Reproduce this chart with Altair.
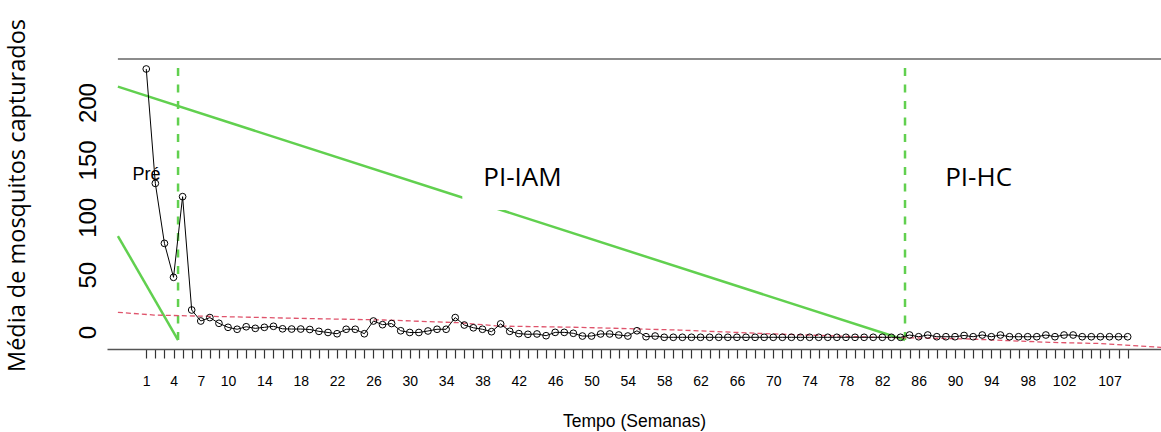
import altair as alt
import pandas as pd

# Weekly mean of captured mosquitoes (weeks 1-109)
semanas = list(range(1, 110))
media = [
    229.3, 129.6, 77.3, 47.7, 118.0, 19.2, 9.6, 12.6, 7.6, 4.1,
    2.4, 4.6, 3.2, 4.1, 5.0, 2.8, 2.6, 2.6, 2.2, 0.6,
    -0.4, -1.5, 2.4, 2.4, -1.5, 9.6, 6.4, 7.4, 1.1, -0.4,
    -0.4, 0.9, 2.4, 2.4, 12.6, 6.1, 3.7, 2.4, 0.3, 7.1,
    0.6, -1.4, -2.0, -1.7, -3.2, -0.3, -0.3, -1.1, -3.5, -3.5,
    -1.7, -1.7, -2.6, -3.5, 1.1, -4.1, -3.5, -4.6, -4.6, -4.6,
    -4.6, -4.6, -4.6, -4.6, -4.6, -4.6, -4.6, -4.6, -4.6, -4.6,
    -4.6, -4.6, -4.6, -4.6, -4.6, -4.6, -4.6, -4.6, -4.6, -4.6,
    -4.6, -4.6, -4.6, -4.6, -2.6, -4.1, -2.6, -4.1, -4.1, -4.1,
    -3.0, -4.1, -2.6, -4.1, -2.6, -4.1, -4.1, -4.1, -4.1, -2.6,
    -4.1, -2.6, -2.6, -4.1, -4.1, -4.1, -4.1, -4.1, -4.1,
]

# Fitted trend (dashed red)
tendencia_x = [-2.12, 1.85, 17.8, 27.2, 35.4, 39.8, 48.6, 59.7, 70.1, 80.6, 91.6, 100.4, 105.9, 112.67]
tendencia_y = [17.2, 14.8, 11.9, 10.5, 8.1, 5.2, 4.1, 1.7, -1.7, -4.4, -6.1, -9.0, -10.0, -13.3]

# Segment lines per phase (solid green)
segmento = ["Pré", "Pré", "PI-IAM", "PI-IAM"]
segmento_x = [-2.12, 4.5, -2.12, 84.5]
segmento_y = [83.7, -7.0, 213.9, -7.0]

# Intervention start weeks (dashed green)
intervencoes = [4.5, 84.5]

# Phase labels
fases = ["Pré", "PI-IAM", "PI-HC"]
fases_x = [1.02, 42.4, 92.6]
fases_y = [132.5, 127.3, 127.3]

# Tick labels shown on the week axis
rotulos_x = [1, 4, 7, 10, 14, 18, 22, 26, 30, 34, 38, 42, 46, 50, 54, 58,
             62, 66, 70, 74, 78, 82, 86, 90, 94, 98, 102, 107]
rotulos_y = [0, 50, 100, 150, 200]

X_MIN, X_MAX = -3.32, 112.67
Y_MIN, Y_MAX = -14.8, 238.0

GREEN = "#61D04F"
RED = "#DF536B"

serie = pd.DataFrame({"semana": semanas, "media": media})
tendencia = pd.DataFrame({"semana": tendencia_x, "media": tendencia_y})
segs = pd.DataFrame({"fase": segmento, "semana": segmento_x, "media": segmento_y})
linhas_v = pd.DataFrame({"semana": intervencoes, "media": [-7.0] * 2, "y1": [231.0] * 2})
rotulos = pd.DataFrame({"fase": fases, "semana": fases_x, "media": fases_y})
topo = pd.DataFrame({"semana": [-2.12], "x1": [X_MAX], "media": [Y_MAX]})
caixa = pd.DataFrame({"semana": [35.78], "x1": [48.6], "media": [106.4], "y1": [150.0]})

label_expr = "indexof([" + ",".join(str(v) for v in rotulos_x) + "], datum.value) >= 0 ? datum.label : ''"

x_scale = alt.Scale(domain=[X_MIN, X_MAX], nice=False, zero=False)
y_scale = alt.Scale(domain=[Y_MIN, Y_MAX], nice=False, zero=False)

x_axis = alt.Axis(
    values=semanas, labelExpr=label_expr, title="Tempo (Semanas)",
    grid=False, tickSize=9, tickColor="#333333", tickWidth=1.2,
    domainColor="#555555", domainWidth=1.5,
    labelFont="Liberation Sans", labelFontSize=14, labelColor="black",
    labelBaseline="middle", labelPadding=23, labelFlush=False, labelOverlap=False,
    titleFont="Liberation Sans", titleFontSize=17.5, titleFontWeight="normal",
    titleColor="black", titleY=72, titleBaseline="middle",
)
y_axis = alt.Axis(
    values=rotulos_y, title="Média de mosquitos capturados", grid=False,
    domain=False, ticks=False, tickSize=0,
    labelFont="Liberation Sans", labelFontSize=24, labelColor="black",
    labelAngle=270, labelAlign="center", labelBaseline="middle", labelPadding=19,
    titleFont="Open Sans", titleFontSize=23.5, titleFontWeight="normal", titleColor="black",
    titleAngle=270, titleX=-90, titleY=136, titleAlign="center", titleBaseline="middle",
)

# Every layer shares the same encodings so the axes merge cleanly
X = alt.X("semana:Q", scale=x_scale, axis=x_axis)
Y = alt.Y("media:Q", scale=y_scale, axis=y_axis)

linha_topo = alt.Chart(topo).mark_rule(color="#666666", strokeWidth=1.5).encode(
    x=X, x2="x1:Q", y=Y,
)

segmentos = alt.Chart(segs).mark_line(color=GREEN, strokeWidth=2.5).encode(
    x=X, y=Y, detail="fase:N",
)

fundo_rotulo = alt.Chart(caixa).mark_rect(color="white").encode(
    x=X, x2="x1:Q", y=Y, y2="y1:Q",
)

verticais = alt.Chart(linhas_v).mark_rule(
    color=GREEN, strokeWidth=2.5, strokeDash=[8, 8.5]
).encode(x=X, y=Y, y2="y1:Q")

trend = alt.Chart(tendencia).mark_line(
    color=RED, strokeWidth=1.3, strokeDash=[5, 3]
).encode(x=X, y=Y)

linha = alt.Chart(serie).mark_line(color="black", strokeWidth=1).encode(x=X, y=Y)
pontos = alt.Chart(serie).mark_point(
    shape="circle", filled=False, size=45, color="black", strokeWidth=1, opacity=1
).encode(x=X, y=Y)

txt_pre = alt.Chart(rotulos[rotulos.fase == "Pré"]).mark_text(
    font="Liberation Sans", fontSize=18, color="black", align="center", baseline="alphabetic"
).encode(x=X, y=Y, text="fase:N")

txt_fases = alt.Chart(rotulos[rotulos.fase != "Pré"]).mark_text(
    font="Open Sans", fontSize=26, color="black", align="center", baseline="alphabetic"
).encode(x=X, y=Y, text="fase:N")

chart = alt.layer(
    linha_topo, segmentos, fundo_rotulo, verticais, trend, linha, pontos, txt_pre, txt_fases
).properties(
    width=1054, height=290,
    padding={"left": 107, "top": 59, "right": 0, "bottom": 83},
    autosize=alt.AutoSizeParams(type="none"),
    background="white",
).configure_view(stroke=None)

chart.save("out.html", embed_options={"renderer": "svg", "actions": False})
